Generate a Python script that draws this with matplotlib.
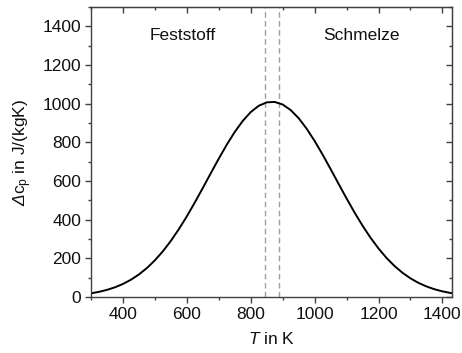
import numpy as np
import matplotlib
matplotlib.use("Agg")
import matplotlib.pyplot as plt
from matplotlib.ticker import MultipleLocator

plt.rcParams['font.family'] = ['Liberation Sans', 'DejaVu Sans']
plt.rcParams['mathtext.fontset'] = 'custom'
plt.rcParams['mathtext.rm'] = 'Liberation Sans'
plt.rcParams['mathtext.it'] = 'Liberation Sans:italic'
# sf slot used for the italic capital Delta (mathtext forces Greek capitals upright in it)
plt.rcParams['mathtext.sf'] = 'Liberation Sans:italic'

# temperature in K and excess heat capacity in J/(kgK)
T = [300, 325, 350, 375, 400, 425, 450, 475, 500, 525, 550, 575, 600, 625, 650,
     675, 700, 725, 750, 775, 800, 825, 850, 875, 900, 925, 950, 975, 1000,
     1025, 1050, 1075, 1100, 1125, 1150, 1175, 1200, 1225, 1250, 1275, 1300,
     1325, 1350, 1375, 1400, 1425, 1430]
dcp = [18.4, 26.0, 36.2, 49.6, 66.9, 88.8, 116.1, 149.4, 189.3, 236.0, 289.9,
       350.4, 417.0, 488.6, 563.7, 640.1, 715.6, 787.8, 853.7, 910.7, 956.5,
       989.0, 1006.8, 1009.0, 995.6, 967.0, 924.8, 870.6, 806.9, 736.4, 661.6,
       585.1, 509.4, 436.7, 368.6, 306.2, 250.5, 201.7, 159.9, 124.8, 95.9,
       72.5, 54.0, 39.6, 28.6, 20.3, 19.0]

# phase boundaries (dashed)
T_bounds = [845, 889]
labels = ['Feststoff', 'Schmelze']
label_T = [586, 1145]
label_y = 1352

fs = 12.5

fig = plt.figure(figsize=(4.62, 3.53), dpi=100)
ax = fig.add_axes([0.197, 0.159, 0.782, 0.821])

for tb in T_bounds:
    ax.axvline(tb, color='#a0a0a0', lw=1.0, ls=(0, (4, 2.5)), zorder=1)

ax.plot(T, dcp, color='black', lw=1.4, zorder=2)

for lab, tx in zip(labels, label_T):
    ax.text(tx, label_y, lab, ha='center', va='center', fontsize=fs, color='#111111')

ax.set_xlim(300, 1431)
ax.set_ylim(0, 1500)
ax.xaxis.set_major_locator(MultipleLocator(200))
ax.xaxis.set_minor_locator(MultipleLocator(100))
ax.yaxis.set_major_locator(MultipleLocator(200))
ax.yaxis.set_minor_locator(MultipleLocator(100))

spine_col = '#404040'
for s in ax.spines.values():
    s.set_color(spine_col)
    s.set_linewidth(1.0)

ax.tick_params(which='both', direction='out', colors=spine_col, labelcolor='#111111',
               labelsize=fs, top=False, right=False)
ax.tick_params(which='major', length=4, width=1.0, pad=3)
ax.tick_params(which='minor', length=2.5, width=1.0)

# mirrored ticks pointing into the box on top and right
secx = ax.secondary_xaxis('top')
secx.xaxis.set_major_locator(MultipleLocator(200))
secx.xaxis.set_minor_locator(MultipleLocator(100))
secx.tick_params(which='both', direction='in', labeltop=False, colors=spine_col)
secx.tick_params(which='major', length=4, width=1.0)
secx.tick_params(which='minor', length=2.5, width=1.0)
secx.spines['top'].set_color(spine_col)

secy = ax.secondary_yaxis('right')
secy.yaxis.set_major_locator(MultipleLocator(200))
secy.yaxis.set_minor_locator(MultipleLocator(100))
secy.tick_params(which='both', direction='in', labelright=False, colors=spine_col)
secy.tick_params(which='major', length=4, width=1.0)
secy.tick_params(which='minor', length=2.5, width=1.0)
secy.spines['right'].set_color(spine_col)

ax.set_xlabel(r'$T$ in K', fontsize=fs, labelpad=7, color='#111111')
ax.set_ylabel(r'$\mathsf{Δ}\mathrm{c}_\mathrm{p}$ in J/(kgK)', fontsize=fs, labelpad=6,
              color='#111111')

fig.savefig('out.png', dpi=100)
